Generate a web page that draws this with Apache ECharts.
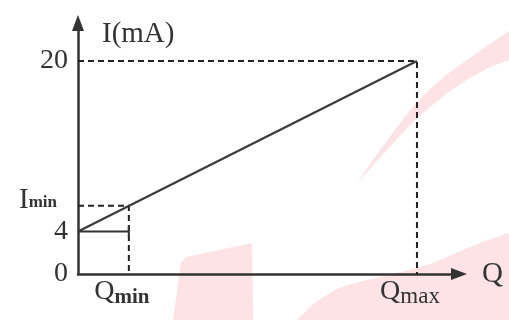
<!DOCTYPE html>
<html><head><meta charset="utf-8">
<script src="https://cdn.jsdelivr.net/npm/echarts@6/dist/echarts.min.js"></script>
<style>html,body{margin:0;padding:0;background:#fff}#c{width:509px;height:320px}</style>
</head><body><div id="c"></div>
<script>
// ---- data ----
const qLine = [0, 10];          // Q at I axis and at Qmax
const iLine = [4, 20];          // I (mA) at those Q
const qMin = 1.5;
const qMax = 10;
const iMin = 6.4;
const iStart = 4;
const iTop = 20;
const yTickValues = [0, 4, iMin, 20];
const xTickValues = [qMin, qMax];

const SERIF = '"Liberation Serif","DejaVu Serif",serif';
const INK = '#333';
const DASH = [6, 4];

const chart = echarts.init(document.getElementById('c'), null, {renderer: 'canvas'});

const wm = '#fde3e5';
const option = {
  backgroundColor: '#fff',
  animation: false,
  graphic: [
    {type: 'polygon', silent: true, z: -10,
      shape: {points: [[173,320],[181,263],[186,257],[252,243],[253,320]]},
      style: {fill: wm}},
    {type: 'polygon', silent: true, z: -10,
      shape: {points: [[297,320],[310,307],[323,297],[335,290],[347,285],[363,281],[380,277],[405,271],[430,264],[447,257],[463,250],[485,241],[509,233],[509,320]]},
      style: {fill: wm}},
    {type: 'polygon', silent: true, z: -10,
      shape: {points: [[357,183],[366,170],[375,157],[386,142],[397,127],[413,107],[430,89],[450,72],[470,58],[490,44],[509,31],
                       [509,60],[490,67],[470,78],[450,91],[430,107],[413,122],[397,139],[386,151],[375,163],[366,173]]},
      style: {fill: wm}}
  ],
  grid: {left: 78, right: 50, top: 23, bottom: 46},
  xAxis: {
    type: 'value', min: 0, max: 11.24,
    name: 'Q', nameLocation: 'end', nameGap: 23,
    nameTextStyle: {fontFamily: SERIF, fontSize: 29, color: INK, verticalAlign: 'middle', padding: [4,0,0,0]},
    axisLine: {show: true, onZero: false, symbol: ['none', 'triangle'], symbolSize: [12, 16],
      lineStyle: {color: INK, width: 2.5}},
    axisTick: {show: false},
    splitLine: {show: false},
    axisLabel: {
      customValues: xTickValues, margin: 3,
      formatter: v => v === qMin ? '{q|Q}{b|min}' : '{q|Q}{m|max}',
      rich: {
        q: {fontFamily: SERIF, fontSize: 28, lineHeight: 30, color: INK},
        b: {fontFamily: SERIF, fontSize: 21, fontWeight: 'bold', lineHeight: 20, color: INK, padding: [12, 14, 0, 0]},
        m: {fontFamily: SERIF, fontSize: 23, lineHeight: 20, color: INK, padding: [10, 14, 0, 0]}
      }
    }
  },
  yAxis: {
    type: 'value', min: 0, max: 23.57,
    name: 'I(mA)', nameLocation: 'end', nameGap: -11,
    nameTextStyle: {fontFamily: SERIF, fontSize: 29, color: INK, align: 'left', verticalAlign: 'middle', padding: [0,0,0,24]},
    axisLine: {show: true, onZero: false, symbol: ['none', 'triangle'], symbolSize: [12, 16],
      lineStyle: {color: INK, width: 2.5}},
    axisTick: {show: false},
    splitLine: {show: false},
    axisLabel: {
      customValues: yTickValues, margin: 10,
      fontFamily: SERIF, fontSize: 28, color: INK,
      formatter: v => v === iMin ? '{i|I}{s|min}' : String(v),
      rich: {
        i: {fontFamily: SERIF, fontSize: 29, color: INK, padding: [0,0,10,0]},
        s: {fontFamily: SERIF, fontSize: 17, fontWeight: 'bold', color: INK, padding: [0,11,7,0]}
      }
    }
  },
  series: [
    {type: 'line', symbol: 'none', z: 5,
      data: qLine.map((q, k) => [q, iLine[k]]),
      lineStyle: {color: '#3a3a3a', width: 2.2}},
    {type: 'line', symbol: 'none', z: 4,
      data: [[0, iTop], [qMax, iTop], [qMax, 0]],
      lineStyle: {color: '#222', width: 2, type: DASH}},
    {type: 'line', symbol: 'none', z: 4,
      data: [[0, iMin], [qMin, iMin], [qMin, 0]],
      lineStyle: {color: '#222', width: 2, type: DASH}},
    {type: 'line', symbol: 'none', z: 4,
      data: [[0, iStart], [qMin, iStart]],
      lineStyle: {color: '#333', width: 2}},
    {type: 'line', symbol: 'none', z: 4,
      data: [[qMin, iStart - 0.5], [qMin, iStart + 0.5]],
      lineStyle: {color: '#333', width: 2}}
  ]
};
chart.setOption(option);
</script>
</body></html>
